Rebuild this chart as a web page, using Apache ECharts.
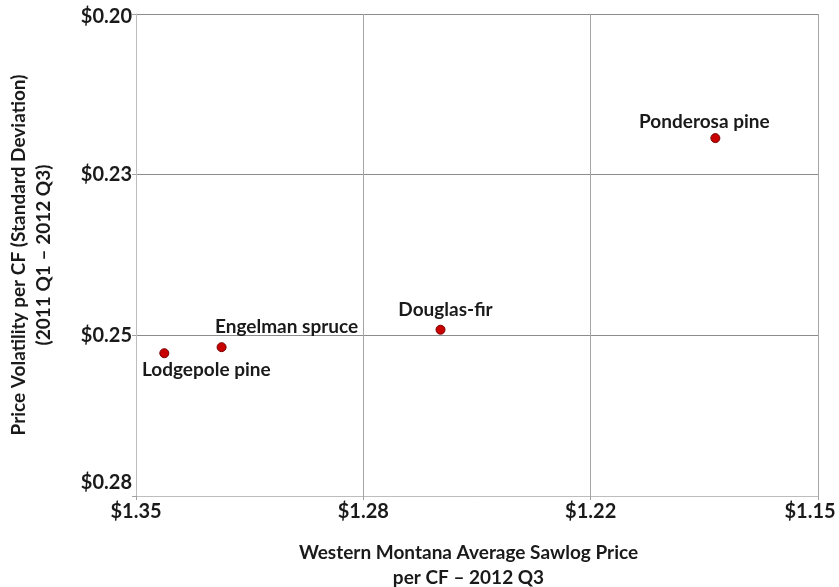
<!DOCTYPE html>
<html>
<head>
<meta charset="utf-8">
<script src="https://cdn.jsdelivr.net/npm/echarts@6/dist/echarts.min.js"></script>
<style>
  html, body { margin: 0; padding: 0; background: #fff; }
  #chart { width: 839px; height: 587px; }
</style>
</head>
<body>
<div id="chart"></div>
<script>
// ---- data ----
const species = ['Lodgepole pine', 'Engelman spruce', 'Douglas-fir', 'Ponderosa pine'];
const avgPrice = [1.3417, 1.3249, 1.2607, 1.1801];     // x: $/CF 2012 Q3
const volatility = [0.2563, 0.2553, 0.2524, 0.2206];   // y: std dev $/CF
const xTickLabels = ['$1.15', '$1.22', '$1.28', '$1.35'];
const yTickLabels = ['$0.20', '$0.23', '$0.25', '$0.28'];
const xTitle = 'Western Montana Average Sawlog Price\nper CF \u2013 2012 Q3';
const yTitle = 'Price Volatility per CF (Standard Deviation)\n(2011 Q1 \u2013 2012 Q3)';

// ---- label placement (styling only) ----
const labelOffsets = [[42, 17], [65, -20], [5, -20], [-11, -16]];

const FONT = 'Lato';
const TXT = '#1a1a1a';

const points = species.map((n, i) => ({
  name: n,
  value: [avgPrice[i], volatility[i]],
  label: { offset: labelOffsets[i] }
}));

const tickFont = { fontFamily: FONT, fontWeight: 'bold', fontSize: 20, color: TXT };

const chart = echarts.init(document.getElementById('chart'), null, { renderer: 'canvas' });
chart.setOption({
  animation: false,
  backgroundColor: '#ffffff',
  grid: { left: 136, top: 14, right: 21, bottom: 91, containLabel: false, outerBoundsMode: 'none' },
  xAxis: {
    type: 'value',
    inverse: true,
    min: 1.15,
    max: 1.35,
    interval: 0.2 / 3,
    name: xTitle,
    nameLocation: 'middle',
    nameGap: 44,
    nameTextStyle: { fontFamily: FONT, fontWeight: 'bold', fontSize: 19, color: TXT, lineHeight: 25, padding: [0, 17, 0, 0] },
    axisLine: { show: true, lineStyle: { color: '#bdbdbd', width: 1 } },
    axisTick: { show: true, length: 4, lineStyle: { color: '#a0a0a0' } },
    splitLine: { show: true, lineStyle: { color: '#a6a6a6', width: 1 } },
    axisLabel: Object.assign({}, tickFont, {
      margin: 6,
      formatter: (v, i) => i === 0 ? '{r|' + xTickLabels[i] + '}' : xTickLabels[i],
      rich: { r: Object.assign({}, tickFont, { padding: [0, 16, 0, 0] }) }
    })
  },
  yAxis: {
    type: 'value',
    inverse: true,
    min: 0.20,
    max: 0.28,
    interval: 0.08 / 3,
    name: yTitle,
    nameLocation: 'middle',
    nameRotate: 90,
    nameGap: 80,
    nameTextStyle: { fontFamily: FONT, fontWeight: 'bold', fontSize: 19, color: TXT, lineHeight: 25 },
    axisLine: { show: true, lineStyle: { color: '#bdbdbd', width: 1 } },
    axisTick: { show: true, length: 4, lineStyle: { color: '#a0a0a0' } },
    splitLine: { show: true, lineStyle: { color: '#8c8c8c', width: 1 } },
    axisLabel: Object.assign({}, tickFont, {
      margin: 4,
      formatter: (v, i) => {
        if (i === 0) return '{t|' + yTickLabels[i] + '}';
        if (i === yTickLabels.length - 1) return '{b|' + yTickLabels[i] + '}';
        return yTickLabels[i];
      },
      rich: {
        t: Object.assign({}, tickFont, { padding: [6, 0, 0, 0] }),
        b: Object.assign({}, tickFont, { padding: [0, 0, 26, 0] })
      }
    })
  },
  series: [{
    type: 'scatter',
    symbol: 'circle',
    symbolSize: 9,
    itemStyle: { color: '#c80000', borderColor: '#7a0000', borderWidth: 1, opacity: 1 },
    label: {
      show: true,
      position: 'inside',
      align: 'center',
      verticalAlign: 'middle',
      formatter: p => p.name,
      fontFamily: FONT, fontWeight: 'bold', fontSize: 19, color: TXT
    },
    emphasis: { disabled: true },
    data: points
  }]
});
</script>
</body>
</html>
